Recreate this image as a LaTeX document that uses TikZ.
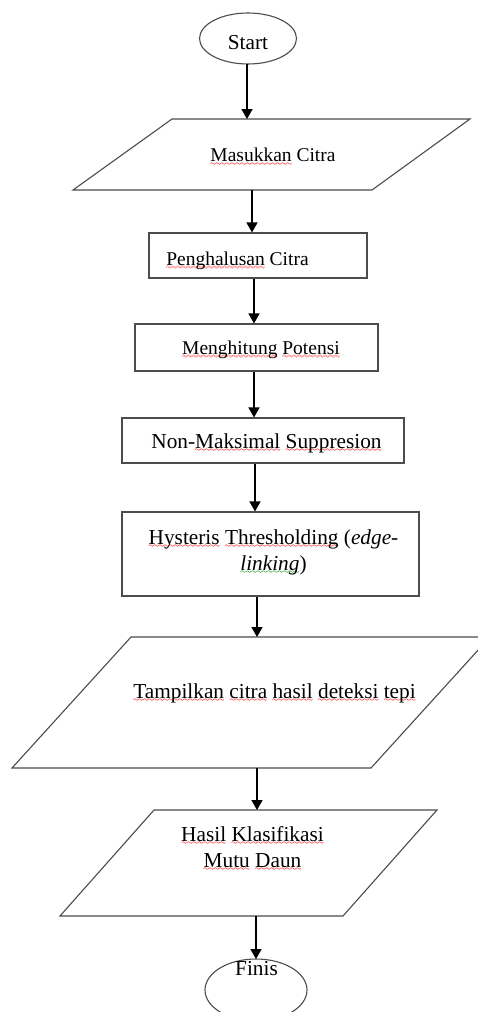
\documentclass[tikz,border=0pt]{standalone}
\usepackage{fontspec}
\setmainfont{Liberation Serif}
\usetikzlibrary{arrows.meta}
\font\sixly=lasy6
\newcommand\waveline{\hbox to\wd0{\xleaders\hbox{\sixly\char58}\hfil}}
\newcommand\wavy[2]{\setbox0\hbox{#2}\rlap{\textcolor{#1}{\lower3.3pt\waveline}}\rlap{\textcolor{#1}{\lower3.8pt\waveline}}\box0\relax}
\newcommand\rw[1]{\wavy{red}{#1}}
\newcommand\gw[1]{\wavy{green!55!black}{#1}}
\tikzset{
  shapeline/.style={draw=black!70, line width=1.1pt},
  flowarrow/.style={draw=black, line width=1.4pt, -{Triangle[width=11pt,length=10pt]}},
  lbl/.style={inner sep=0pt, anchor=center},
  smalltxt/.style={font=\fontsize{19.5}{24}\selectfont},
  bigtxt/.style={font=\fontsize{21.3}{26}\selectfont},
}
\begin{document}
\begin{tikzpicture}[x=1pt,y=-1pt]
\useasboundingbox[fill=white] (0,0) rectangle (477,1012);

% ---- shapes ----
\draw[shapeline] (248,38.5) ellipse [x radius=48.5, y radius=25.5];
\coordinate (startB) at (247,64);

\draw[shapeline] (172,119) -- (470,119) -- (372,190) -- (73,190) -- cycle;
\coordinate (p1T) at (247,119);
\coordinate (p1B) at (252,190);

\node[shapeline, minimum width=218pt, minimum height=45pt, inner sep=0pt] (b2) at (258,255.5) {};
\node[shapeline, minimum width=243pt, minimum height=47pt, inner sep=0pt] (b3) at (256.5,347.5) {};
\node[shapeline, minimum width=282pt, minimum height=45pt, inner sep=0pt] (b4) at (263,440.5) {};
\node[shapeline, minimum width=297pt, minimum height=84pt, inner sep=0pt] (b5) at (270.5,554) {};

\draw[shapeline] (131,637) -- (490,637) -- (371,768) -- (12,768) -- cycle;
\coordinate (p6T) at (257,637);
\coordinate (p6B) at (257,768);

\draw[shapeline] (154,810) -- (437,810) -- (343,916) -- (60,916) -- cycle;
\coordinate (p7T) at (257,810);
\coordinate (p7B) at (256,916);

\draw[shapeline] (256,990) ellipse [x radius=51, y radius=31];
\coordinate (finT) at (256,959);

% ---- texts ----
\node[lbl, bigtxt] (tstart) at (248,43) {Start};
\node[lbl, smalltxt] (t1) at (273,157) {\rw{Masukkan} Citra};
\node[lbl, smalltxt] (t2) at (237.5,261) {\rw{Penghalusan} Citra};
\node[lbl, smalltxt] (t3) at (261,350) {\rw{Menghitung} \rw{Potensi}};
\node[lbl, bigtxt] (t4) at (266.5,443) {Non-\rw{Maksimal} \rw{Suppresion}};
\node[lbl, bigtxt, align=center] (t5) at (273.5,552) {\rw{Hysteris} \rw{Thresholding} (\textit{edge-}\\\textit{\gw{linking}})};
\node[lbl, bigtxt] (t6) at (274.5,693) {\rw{Tampilkan} \rw{citra} \rw{hasil} \rw{deteksi} \rw{tepi}};
\node[lbl, bigtxt, align=center] (t7) at (252.5,848.5) {\rw{Hasil} \rw{Klasifikasi}\\\rw{Mutu} \rw{Daun}};
\node[lbl, bigtxt] (tfin) at (256.5,969) {Finis};

% ---- connectors ----
\draw[flowarrow] (startB) -- (p1T);
\draw[flowarrow] (p1B) -- (p1B |- b2.north);
\draw[flowarrow] (b2.south -| 254,0) -- (b3.north -| 254,0);
\draw[flowarrow] (b3.south -| 254,0) -- (b4.north -| 254,0);
\draw[flowarrow] (b4.south -| 255,0) -- (b5.north -| 255,0);
\draw[flowarrow] (b5.south -| 257,0) -- (p6T);
\draw[flowarrow] (p6B) -- (p7T);
\draw[flowarrow] (p7B) -- (finT);
\end{tikzpicture}
\end{document}
